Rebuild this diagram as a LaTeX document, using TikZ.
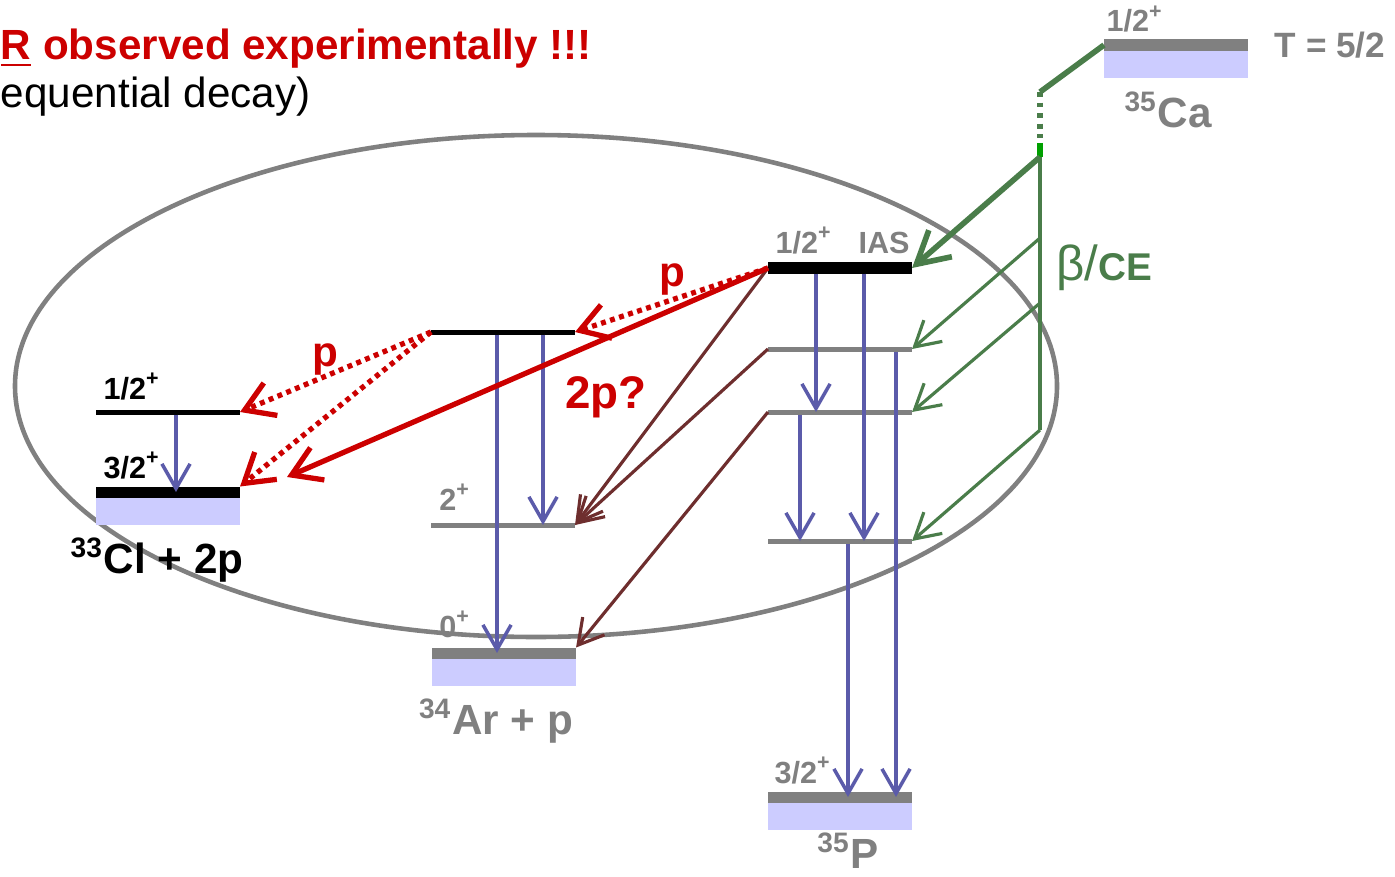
\documentclass[tikz,border=0pt]{standalone}
\usepackage{fontspec}
\setmainfont{Liberation Sans}
\usetikzlibrary{positioning,arrows.meta}
\definecolor{hot}{HTML}{CC0000}
\definecolor{lgray}{HTML}{808080}
\definecolor{gblue}{HTML}{5B5BAA}
\definecolor{bgreen}{HTML}{4A7D4A}
\definecolor{lime}{HTML}{00A000}
\definecolor{lav}{HTML}{CCCCFF}
\definecolor{rust}{HTML}{6E2E2E}

\begin{document}
\begin{tikzpicture}[x=0.01cm,y=-0.01cm,every node/.style={inner sep=0pt,outer sep=0pt,font=\bfseries\fontsize{8.7}{10}\selectfont}]
      \tikzstyle{lvl}=[rectangle,minimum width=1.44cm,minimum height=0.05cm,fill=lgray];
      \tikzstyle{gnd}=[lvl,minimum height=0.11cm];
      \tikzstyle{band}=[rectangle,minimum width=1.44cm,minimum height=0.27cm,fill=lav];
      \tikzstyle{big}=[font=\bfseries\fontsize{12}{14}\selectfont];
      \tikzstyle{shell}=[draw=lgray,line width=1.3pt];
      \tikzstyle{gam}=[draw=gblue,line width=1pt,-{Straight Barb[length=7pt,width=8pt]}];
      \tikzstyle{pp}=[draw=hot,line width=1.5pt,-{Straight Barb[length=8pt,width=10pt]}];
      \tikzstyle{pd}=[pp,dash pattern=on 1.4pt off 1.3pt];
      \tikzstyle{sp}=[draw=rust,line width=0.9pt,-{Straight Barb[length=7pt,width=8pt]}];
      \tikzstyle{bt}=[draw=bgreen,line width=0.9pt];
      \tikzstyle{bta}=[bt,-{Straight Barb[length=7pt,width=8pt]}];
      \tikzstyle{btk}=[draw=bgreen,line width=1.6pt];
      \useasboundingbox (0,0) rectangle (1395,876);
      \draw[shell] (536,386) ellipse [x radius=521,y radius=251];
      \node[anchor=base west,big,text=hot] (head) at (1,60) {\underline{R} observed experimentally !!!};
      \node[anchor=base west,font=\fontsize{12}{14}\selectfont] (sub) at (1,107) {equential decay)};
      \node[lvl,fill=black] (cla) at (168,412) {};
      \node[gnd,fill=black] (clg) at (168,492) {};
      \node[band,below=0pt of clg] (clb) {};
      \node[lvl,fill=black] (arx) at (503,332) {};
      \node[lvl] (ar2) at (503,525) {};
      \node[gnd] (ar0) at (504,653) {};
      \node[band,below=0pt of ar0] (arb) {};
      \node[gnd,fill=black] (ias) at (840,268) {};
      \node[lvl] (p1) at (840,349) {};
      \node[lvl] (p2) at (840,412) {};
      \node[lvl] (p3) at (840,541) {};
      \node[gnd] (pg) at (840,797) {};
      \node[band,below=0pt of pg] (pb) {};
      \node[gnd] (ca) at (1176,45) {};
      \node[band,below=0pt of ca] (cab) {};
      \coordinate (c1) at (176,0); \coordinate (c2) at (497,0); \coordinate (c3) at (543,0);
      \coordinate (c4) at (816,0); \coordinate (c5) at (864,0); \coordinate (c6) at (896,0);
      \coordinate (c7) at (800,0); \coordinate (c8) at (848,0);
      \coordinate (bk) at (1040,92); \coordinate (bd) at (1040,138); \coordinate (bl) at (1040,143);
      \coordinate (btop) at (1040,157); \coordinate (b1) at (1040,238); \coordinate (b2) at (1040,303);
      \coordinate (b3) at (1040,430); \coordinate (tp) at (287,477);
      \draw[gam] (c1 |- cla.south) -- (c1 |- clg);
      \draw[gam] (c2 |- arx.south) -- (c2 |- ar0); \draw[gam] (c3 |- arx.south) -- (c3 |- ar2);
      \draw[gam] (c4 |- ias.south) -- (c4 |- p2); \draw[gam] (c5 |- ias.south) -- (c5 |- p3);
      \draw[gam] (c6 |- p1.south) -- (c6 |- pg); \draw[gam] (c7 |- p2.south) -- (c7 |- p3);
      \draw[gam] (c8 |- p3.south) -- (c8 |- pg);
      \draw[sp] (ias.west) -- (ar2.east); \draw[sp] (p1.west) -- (ar2.east);
      \draw[sp] (p2.west) -- (ar0.north east);
      \draw[pp] (ias.west) -- (tp);
      \draw[pd] (ias.west) -- (arx.east);
      \draw[pd] (arx.west) -- (cla.east); \draw[pd] (arx.west) -- (clg.north east);
      \draw[btk] (ca.west) -- (bk);
      \draw[btk,dash pattern=on 1.4pt off 1.6pt] (bk) -- (bd);
      \draw[lime,line width=1.6pt] (bl) -- (btop);
      \draw[btk,-{Straight Barb[length=9pt,width=10pt]}] (btop) -- (ias.east);
      \draw[bt] (btop) -- (b3);
      \draw[bta] (b1) -- (p1.east); \draw[bta] (b2) -- (p2.east); \draw[bta] (b3) -- (p3.east);
      \node[anchor=base] (lcla) at (132,399) {1/2\textsuperscript{+}};
      \node[anchor=base] (lclg) at (132,478) {3/2\textsuperscript{+}};
      \node[anchor=base,big] (ncl) at (157,573) {\textsuperscript{33}Cl + 2p};
      \node[anchor=base,text=lgray] (lar2) at (455,510) {2\textsuperscript{+}};
      \node[anchor=base,text=lgray] (lar0) at (455,637) {0\textsuperscript{+}};
      \node[anchor=base,big,text=lgray] (nar) at (496,734) {\textsuperscript{34}Ar + p};
      \node[anchor=base,text=lgray] (lias) at (804,253) {1/2\textsuperscript{+}};
      \node[anchor=base,text=lgray] (tias) at (884,253) {IAS};
      \node[anchor=base,text=lgray] (lpg) at (803,783) {3/2\textsuperscript{+}};
      \node[anchor=base,big,text=lgray] (np) at (848,868) {\textsuperscript{35}P};
      \node[anchor=base,text=lgray] (lca) at (1135,32) {1/2\textsuperscript{+}};
      \node[anchor=base,text=lgray,font=\bfseries\fontsize{10}{12}\selectfont] (tiso) at (1330,58) {T = 5/2};
      \node[anchor=base,big,text=lgray] (nca) at (1168,127) {\textsuperscript{35}Ca};
      \node[anchor=base,text=hot,font=\bfseries\fontsize{12}{14}\selectfont] (pa) at (325,366) {p};
      \node[anchor=base,text=hot,font=\bfseries\fontsize{12}{14}\selectfont] (pb2) at (672,286) {p};
      \node[anchor=base,text=hot,font=\bfseries\fontsize{13}{15}\selectfont] (twop) at (606,408) {2p?};
      \node[anchor=base,text=bgreen,font=\fontsize{14}{16}\selectfont] (beta) at (1104,280) {β/{\bfseries\fontsize{11}{13}\selectfont CE}};
    \end{tikzpicture}
\end{document}
